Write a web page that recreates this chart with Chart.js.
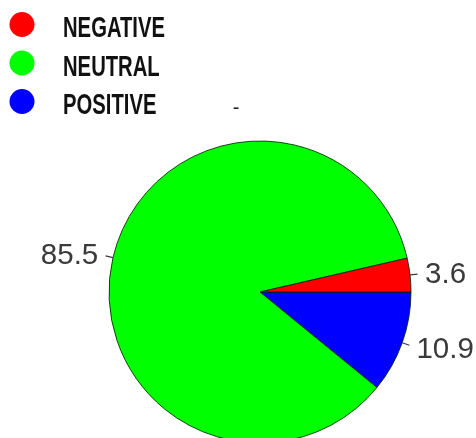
<!DOCTYPE html>
<html>
<head>
<meta charset="utf-8">
<script src="https://cdn.jsdelivr.net/npm/chart.js@4.4.1/dist/chart.umd.min.js"></script>
<style>
  html, body { margin: 0; padding: 0; background: #ffffff; overflow: hidden; }
  #wrap { position: relative; width: 476px; height: 438px; }
</style>
</head>
<body>
<div id="wrap"><canvas id="pieChart"></canvas></div>
<script>
// Sentiment shares (legend order)
const categories = ['NEGATIVE', 'NEUTRAL', 'POSITIVE'];
const shares = [3.6, 85.5, 10.9];
const sliceColors = ['#ff0000', '#00ff00', '#0000ff'];

// pie is drawn clockwise from 3 o'clock: positive, neutral, negative
const drawOrder = [2, 1, 0];

// small tick + number outside every slice (R style)
const outerLabels = {
    id: 'outerLabels',
    afterDatasetsDraw(chart) {
        const ctx = chart.ctx;
        const meta = chart.getDatasetMeta(0);
        const values = chart.data.datasets[0].data;
        ctx.save();
        ctx.font = '29.5px "Liberation Sans", Arial, sans-serif';
        ctx.fillStyle = '#3a3a3a';
        ctx.strokeStyle = '#3a3a3a';
        ctx.lineWidth = 1.2;
        ctx.textBaseline = 'middle';
        meta.data.forEach((arc, i) => {
            const p = arc.getProps(['x', 'y', 'startAngle', 'endAngle', 'outerRadius'], true);
            const mid = (p.startAngle + p.endAngle) / 2;
            const cos = Math.cos(mid), sin = Math.sin(mid);
            const r = p.outerRadius;
            ctx.beginPath();
            ctx.moveTo(p.x + cos * r, p.y + sin * r);
            ctx.lineTo(p.x + cos * r * 1.05, p.y + sin * r * 1.05);
            ctx.stroke();
            ctx.textAlign = cos < 0 ? 'right' : 'left';
            ctx.fillText(String(values[i]), p.x + cos * r * 1.1, p.y + sin * r * 1.1 + 2);
        });
        ctx.restore();
    }
};

// legend with round keys in the top-left corner, plus the stray "-" title
const cornerLegend = {
    id: 'cornerLegend',
    afterDraw(chart) {
        const ctx = chart.ctx;
        ctx.save();
        ctx.font = 'bold 30px "Liberation Sans Narrow", "Liberation Sans", Arial, sans-serif';
        const sx = 102 / ctx.measureText('NEGATIVE').width;
        categories.forEach((name, i) => {
            const cy = 24.5 + i * 38.5;
            ctx.beginPath();
            ctx.arc(22, cy, 12.5, 0, Math.PI * 2);
            ctx.fillStyle = sliceColors[i];
            ctx.fill();
            ctx.save();
            ctx.translate(63, cy + 12.5);
            ctx.scale(sx, 1);
            ctx.fillStyle = '#111111';
            ctx.textAlign = 'left';
            ctx.textBaseline = 'alphabetic';
            ctx.fillText(name, 0, 0);
            ctx.restore();
        });
        ctx.font = '20px "Liberation Sans", Arial, sans-serif';
        ctx.fillStyle = '#222222';
        ctx.textAlign = 'center';
        ctx.textBaseline = 'middle';
        ctx.fillText('-', 236, 108);
        ctx.restore();
    }
};

const ctx = document.getElementById('pieChart').getContext('2d');

new Chart(ctx, {
    type: 'pie',
    data: {
        labels: drawOrder.map(i => categories[i]),
        datasets: [{
            data: drawOrder.map(i => shares[i]),
            backgroundColor: drawOrder.map(i => sliceColors[i]),
            borderColor: 'rgba(0, 40, 0, 0.85)',
            borderWidth: 1,
            hoverOffset: 0,
            clip: false
        }]
    },
    options: {
        responsive: true,
        maintainAspectRatio: false,
        animation: false,
        events: [],
        rotation: 90,
        radius: 151,
        layout: {
            padding: { left: 110, right: 66, top: 150, bottom: 4 }
        },
        plugins: {
            legend: { display: false },
            tooltip: { enabled: false }
        }
    },
    plugins: [outerLabels, cornerLegend]
});
</script>
</body>
</html>
